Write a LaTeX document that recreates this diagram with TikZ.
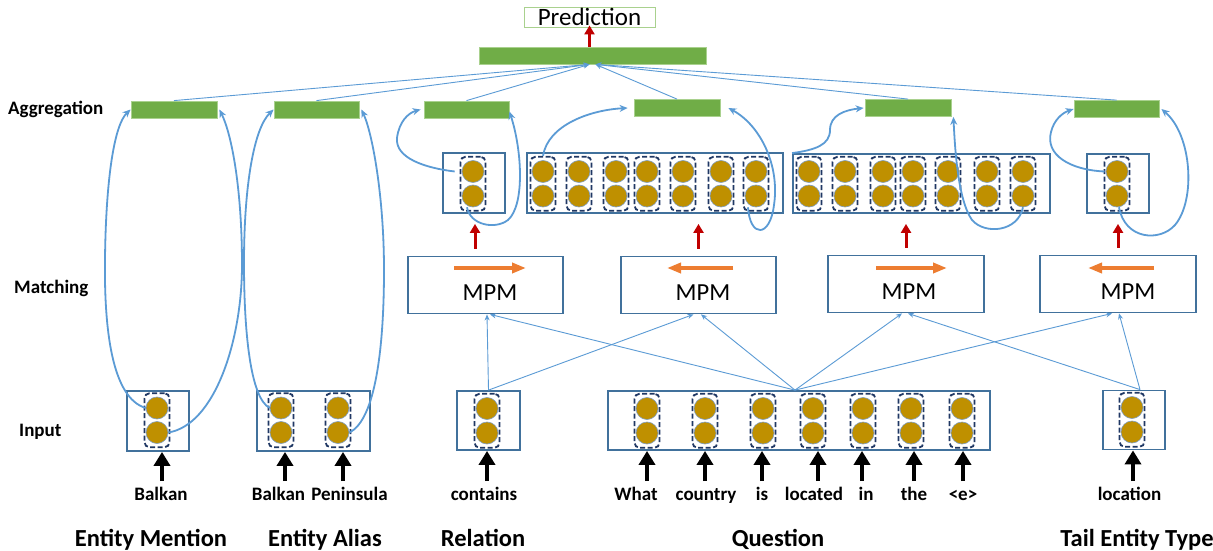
\documentclass[tikz,border=0pt]{standalone}
\usepackage{fontspec}
\setmainfont{Carlito}
\usetikzlibrary{arrows.meta}
\definecolor{gbar}{HTML}{70AD47}
\definecolor{gline}{HTML}{A9D18E}
\definecolor{bbord}{HTML}{41719C}
\definecolor{bcurve}{HTML}{5B9BD5}
\definecolor{gold}{HTML}{BF9000}
\definecolor{navy}{HTML}{203864}
\definecolor{dred}{HTML}{C00000}
\definecolor{orng}{HTML}{ED7D31}
\definecolor{cedge}{HTML}{7F9DBF}
\tikzset{
 bxs/.style={draw=bbord, line width=1.8pt, inner sep=0},
 aggbar/.style={fill=gbar, draw=gline, line width=0.8pt, minimum width=86pt, minimum height=17pt, inner sep=0},
 dcol/.style={draw=navy, dash pattern=on 5pt off 2.5pt, line width=1.8pt, rounded corners=5pt, minimum width=25pt, minimum height=54pt, inner sep=0},
 circ/.style={circle, fill=gold, draw=cedge, line width=0.6pt, minimum size=22pt, inner sep=0},
 bcurv/.style={draw=bcurve, line width=1.8pt, -{Stealth[length=8pt,width=7pt]}},
 feed/.style={draw=bcurve, line width=0.9pt, -{Stealth[length=6pt,width=5pt]}},
 redarr/.style={draw=dred, line width=3pt, -{Triangle[length=9pt,width=10pt]}},
 orarr/.style={draw=orng, line width=3.5pt, -{Triangle[length=14pt,width=10pt]}},
 inarr/.style={draw=black, line width=3.5pt, -{Triangle[length=14pt,width=16pt]}},
 word/.style={font=\bfseries\fontsize{19}{22}\selectfont, inner sep=0, text height=13pt, text depth=4pt, anchor=base},
 sidelbl/.style={font=\bfseries\fontsize{19}{22}\selectfont, inner sep=0, anchor=base west},
 grplbl/.style={font=\bfseries\fontsize{24.5}{28}\selectfont, inner sep=0, anchor=base},
 mpmtxt/.style={font=\fontsize{24.5}{28}\selectfont, inner sep=0},
}
\newcommand{\pcol}[3]{%
 \node[dcol] (#1) at (#2,#3+12.25) {};
 \node[circ] (#1a) at (#2,#3) {};
 \node[circ] (#1b) at (#2,#3+24.5) {};}
\begin{document}
\begin{tikzpicture}[x=1pt,y=-1pt]
\fill[white] (0,0) rectangle (1213,551);
\useasboundingbox (0,0) rectangle (1213,551);

% side labels
\node[sidelbl] (lAgg) at (8,114) {Aggregation};
\node[sidelbl] (lMat) at (14,293) {Matching};
\node[sidelbl] (lInp) at (19,436) {Input};

% group labels
\node[grplbl] (gM) at (151,546) {Entity Mention};
\node[grplbl] (gA) at (325,546) {Entity Alias};
\node[grplbl] (gR) at (483,546) {Relation};
\node[grplbl] (gQ) at (778,546) {Question};
\node[grplbl] (gT) at (1137,546) {Tail Entity Type};

% prediction and top bar
\node[draw=gline, line width=0.9pt, minimum width=131pt, minimum height=20pt, inner sep=0, font=\fontsize{25}{28}\selectfont] (pred) at (589.5,17) {Prediction};
\node[aggbar, minimum width=227pt] (top) at (592.5,55.5) {};
\draw[redarr] (top.north -| pred.south) -- ([yshift=2pt]pred.south);

% aggregation bars
\node[aggbar] (agg1) at (174,109.5) {};
\node[aggbar, minimum width=85pt] (agg2) at (316.5,109.5) {};
\node[aggbar, minimum width=85pt] (agg3) at (466.5,109.5) {};
\node[aggbar] (agg4) at (677,108) {};
\node[aggbar] (agg5) at (908,108) {};
\node[aggbar, minimum width=85pt] (agg6) at (1116.5,109) {};

\draw[feed] (agg1.north) -- ([xshift=-3pt]top.south);
\draw[feed] (agg2.north) -- ([xshift=-3pt]top.south);
\draw[feed] (agg3.north) -- ([xshift=-3pt]top.south);
\draw[feed] (agg4.north) -- ([xshift=3pt]top.south);
\draw[feed] (agg5.north) -- ([xshift=3pt]top.south);
\draw[feed] (agg6.north) -- ([xshift=3pt]top.south);

% upper (matching result) boxes
\node[bxs, minimum width=62pt, minimum height=60pt] (uR) at (474,183) {};
\node[bxs, minimum width=256pt, minimum height=60pt] (uQ1) at (655,183) {};
\node[bxs, minimum width=257pt, minimum height=59pt] (uQ2) at (921.5,183.5) {};
\node[bxs, minimum width=62pt, minimum height=59pt] (uT) at (1118,183.5) {};
\pcol{uRc}{473}{171.5}
\pcol{uQa1}{543}{171.5}
\pcol{uQa2}{579}{171.5}
\pcol{uQa3}{616}{171.5}
\pcol{uQa4}{647}{171.5}
\pcol{uQa5}{683}{171.5}
\pcol{uQa6}{721}{171.5}
\pcol{uQa7}{756}{171.5}
\pcol{uQb1}{809}{171.5}
\pcol{uQb2}{845}{171.5}
\pcol{uQb3}{883}{171.5}
\pcol{uQb4}{913}{171.5}
\pcol{uQb5}{948}{171.5}
\pcol{uQb6}{987}{171.5}
\pcol{uQb7}{1023}{171.5}
\pcol{uTc}{1117}{171.5}

% MPM boxes
\node[bxs, minimum width=155pt, minimum height=57pt] (m1) at (485.5,285) {};
\node[bxs, minimum width=155pt, minimum height=57pt] (m2) at (698.5,285) {};
\node[bxs, minimum width=156pt, minimum height=57pt] (m3) at (906,284) {};
\node[bxs, minimum width=156pt, minimum height=57pt] (m4) at (1118,284) {};
\node[mpmtxt] (m1t) at (490,293) {MPM};
\node[mpmtxt] (m2t) at (703,293) {MPM};
\node[mpmtxt] (m3t) at (909,292) {MPM};
\node[mpmtxt] (m4t) at (1128,292) {MPM};
\coordinate (o1s) at (454,268); \coordinate (o1e) at (526,268);
\coordinate (o2s) at (733,268); \coordinate (o2e) at (667,268);
\coordinate (o3s) at (876,268); \coordinate (o3e) at (947,268);
\coordinate (o4s) at (1154,268); \coordinate (o4e) at (1088,268);
\draw[orarr] (o1s) -- (o1e);
\draw[orarr] (o2s) -- (o2e);
\draw[orarr] (o3s) -- (o3e);
\draw[orarr] (o4s) -- (o4e);

% red arrows MPM -> upper boxes
\draw[redarr, shorten <=7pt, shorten >=10pt] ([xshift=2pt]m1.north -| uRc) -- ([xshift=2pt]uRc |- uR.south);
\draw[redarr, shorten <=7pt, shorten >=10pt] (m2.north) -- (m2.north |- uQ1.south);
\draw[redarr, shorten <=7pt, shorten >=10pt] (m3.north) -- (m3.north |- uQ2.south);
\draw[redarr, shorten <=7pt, shorten >=10pt] (m4.north) -- (m4.north |- uT.south);

% input boxes
\node[bxs, minimum width=62pt, minimum height=60pt] (bM) at (158,421) {};
\node[bxs, minimum width=113pt, minimum height=60pt] (bA) at (313.5,421) {};
\node[bxs, minimum width=63pt, minimum height=59pt] (bR) at (488.5,420.5) {};
\node[bxs, minimum width=382pt, minimum height=59pt] (bQ) at (799,420.5) {};
\node[bxs, minimum width=62pt, minimum height=59pt] (bT) at (1134,420) {};
\pcol{cM}{157}{408}
\pcol{cA1}{281}{408}
\pcol{cA2}{338}{408}
\pcol{cR}{487}{408.5}
\pcol{cQ1}{647}{408.5}
\pcol{cQ2}{705}{408.5}
\pcol{cQ3}{763}{408.5}
\pcol{cQ4}{813}{408.5}
\pcol{cQ5}{863}{408.5}
\pcol{cQ6}{911}{408.5}
\pcol{cQ7}{962}{408.5}
\pcol{cT}{1132}{407.5}

% words and input arrows
\node[word] (wM) at (161,500) {Balkan};
\node[word] (wA1) at (278.5,500) {Balkan};
\node[word] (wA2) at (349.5,500) {Peninsula};
\node[word] (wR) at (484,500) {contains};
\node[word] (wQ1) at (636,500) {What};
\node[word] (wQ2) at (706,500) {country};
\node[word] (wQ3) at (762,500) {is};
\node[word] (wQ4) at (814,500) {located};
\node[word] (wQ5) at (866,500) {in};
\node[word] (wQ6) at (914,500) {the};
\node[word] (wQ7) at (963,500) {<e>};
\node[word] (wT) at (1129.5,500) {location};
\coordinate (iM) at (162,481);
\coordinate (iA1) at (285,481);
\coordinate (iA2) at (343,481);
\coordinate (iR) at (487,481);
\coordinate (iQ1) at (647,481);
\coordinate (iQ2) at (705,481);
\coordinate (iQ3) at (762,481);
\coordinate (iQ4) at (818,481);
\coordinate (iQ5) at (862,481);
\coordinate (iQ6) at (914,481);
\coordinate (iQ7) at (963,481);
\coordinate (iT) at (1133,481);
\draw[inarr] (iM) -- (iM |- bM.south);
\draw[inarr] (iA1) -- (iA1 |- bA.south);
\draw[inarr] (iA2) -- (iA2 |- bA.south);
\draw[inarr] (iR) -- (iR |- bR.south);
\draw[inarr] (iQ1) -- (iQ1 |- bQ.south);
\draw[inarr] (iQ2) -- (iQ2 |- bQ.south);
\draw[inarr] (iQ3) -- (iQ3 |- bQ.south);
\draw[inarr] (iQ4) -- (iQ4 |- bQ.south);
\draw[inarr] (iQ5) -- (iQ5 |- bQ.south);
\draw[inarr] (iQ6) -- (iQ6 |- bQ.south);
\draw[inarr] (iQ7) -- (iQ7 |- bQ.south);
\draw[inarr] (iT) -- (iT |- bT.south);

% feeds input -> MPM
\draw[feed] (bR.north) -- ([xshift=1.5pt]m1.south);
\draw[feed] (bR.north) -- ([xshift=-5pt]m2.south);
\draw[feed] ([xshift=-4pt]bQ.north) -- ([xshift=4.5pt]m1.south);
\draw[feed] ([xshift=-4pt]bQ.north) -- ([xshift=2.5pt]m2.south);
\draw[feed] ([xshift=-4pt]bQ.north) -- ([xshift=-4pt]m3.south);
\draw[feed] ([xshift=-4pt]bQ.north) -- ([xshift=-6pt]m4.south);
\draw[feed] ([xshift=6pt]bT.north) -- ([xshift=2pt]m3.south);
\draw[feed] ([xshift=6pt]bT.north) -- ([xshift=1pt]m4.south);

% aggregation curves
\draw[bcurv] (cMa.west) .. controls (112,398) and (104,330) .. (105,258) .. controls (106,180) and (114,125) .. (agg1.west);
\draw[bcurv] (cMb.east) .. controls (215,425) and (242,340) .. (242,265) .. controls (242,190) and (232,135) .. ([xshift=2pt]agg1.east);
\draw[bcurv] (cA1a.west) .. controls (250,398) and (244,330) .. (244,263) .. controls (244,185) and (254,128) .. (agg2.west);
\draw[bcurv] (cA2b.east) .. controls (376,420) and (384,345) .. (384,270) .. controls (384,195) and (372,132) .. ([xshift=2pt]agg2.east);
\draw[bcurv] ([xshift=-7pt]uRca.west) .. controls (425,168) and (395,158) .. (397,138) .. controls (399,122) and (408,113) .. ([xshift=-3pt]agg3.west);
\draw[bcurv] ([xshift=-6pt]uRcb.south) .. controls (470,225) and (495,230) .. (508,220) .. controls (525,205) and (522,150) .. ([yshift=-2pt]agg3.east);
\draw[bcurv] (uQa1.north) .. controls (548,125) and (590,110) .. ([xshift=-6pt]agg4.west);
\draw[bcurv] ([xshift=-8pt]uQa7b.south) .. controls (750,238) and (770,238) .. (774,205) .. controls (780,165) and (760,125) .. ([xshift=8pt]agg4.east);
\draw[bcurv] (uQ2.north west) .. controls (815,150) and (830,145) .. (830,130) .. controls (830,115) and (845,110) .. ([xshift=-1pt]agg5.west);
\draw[bcurv] (uQb7b.south) .. controls (1018,232) and (985,235) .. (972,220) .. controls (958,200) and (955,150) .. ([xshift=2pt]agg5.south east);
\draw[bcurv] ([xshift=-1pt]uTca.west) .. controls (1070,170) and (1045,155) .. (1051,132) .. controls (1054,120) and (1062,113) .. (agg6.west);
\draw[bcurv] ([xshift=2pt]uTcb.south) .. controls (1125,240) and (1160,242) .. (1175,225) .. controls (1196,200) and (1192,135) .. ([xshift=2pt]agg6.east);
\end{tikzpicture}
\end{document}
